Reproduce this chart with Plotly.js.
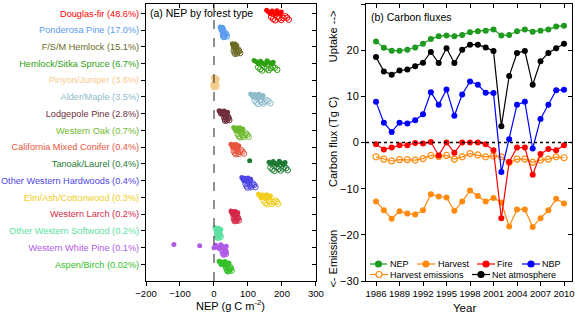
<!DOCTYPE html>
<html><head><meta charset="utf-8">
<script src="https://cdn.plot.ly/plotly-3.0.1.min.js"></script>
<style>html,body{margin:0;padding:0;background:#fff}#chart{width:575px;height:314px}</style>
</head><body><div id="chart"></div>
<script>
// ---------- Panel (a) data ----------
const forestTypes = ['Douglas-fir','Ponderosa Pine','F/S/M Hemlock','Hemlock/Sitka Spruce','Pinyon/Juniper','Alder/Maple','Lodgepole Pine','Western Oak','California Mixed Conifer','Tanoak/Laurel','Other Western Hardwoods','Elm/Ash/Cottonwood','Western Larch','Other Western Softwood','Western White Pine','Aspen/Birch'];
const forestShares = ['48.6%','17.0%','15.1%','6.7%','3.6%','3.5%','2.8%','0.7%','0.4%','0.4%','0.4%','0.3%','0.2%','0.2%','0.1%','0.02%'];
const nepFilled = [
  [155,160,166,171,176,181,185,189,194,198],
  [18,20,21,22,23,24,25,26,27,28],
  [54,56,57,58,60,61,62,64,65,67],
  [118,124,131,137,144,150,156,162,168,174],
  [-2,0,1,2,3,4,5,6,8,10],
  [108,112,116,120,124,128,132,136,140,144],
  [15,18,20,23,25,27,30,33,36,40],
  [58,61,64,67,70,73,76,79,82,85],
  [50,53,55,58,60,62,65,67,70,73],
  [105,162,168,174,180,186,192,198,204,209],
  [82,85,88,91,94,97,100,103,106,108],
  [131,135,139,143,147,151,155,159,163,166],
  [50,52,55,57,59,61,63,65,67,70],
  [3,5,7,9,11,13,14,16,18,20],
  [-118,-42,0,5,10,15,20,25,30,36],
  [15,18,21,24,27,30,33,36,40,44]
];
const nepOpen = [
  [168,174,180,186,192,198,204,210,215,220],
  [26,27,28,29,30,31,32,34,36,38],
  [58,60,62,64,66,68,70,72,74,77],
  [130,136,142,148,155,161,167,173,179,186],
  [-2,-1,0,1,2,3,4,5,6,8],
  [120,125,130,135,140,145,150,155,160,166],
  [30,32,33,35,36,38,40,41,43,45],
  [70,73,77,80,84,87,91,94,98,102],
  [58,61,64,67,70,73,76,80,84,88],
  [166,172,178,184,190,196,202,207,212,217],
  [93,96,99,102,106,109,112,115,118,122],
  [146,151,156,161,166,171,176,180,185,189],
  [58,60,61,63,64,66,67,69,71,73],
  [9,10,11,12,13,14,15,16,18,20],
  [25,27,28,29,30,31,32,33,34,35],
  [36,38,40,42,43,44,46,48,50,52]
];
// ---------- Panel (b) data ----------
const years = [1986,1987,1988,1989,1990,1991,1992,1993,1994,1995,1996,1997,1998,1999,2000,2001,2002,2003,2004,2005,2006,2007,2008,2009,2010];
const nepFlux = [21.9,20.5,19.9,19.9,20.1,20.6,21.4,22.4,23.0,23.2,23.0,23.3,23.9,24.1,24.2,24.5,23.2,23.3,24.1,24.5,24.0,24.2,24.5,25.1,25.3];
const harvest = [-12.8,-14.7,-16.5,-14.9,-15.4,-15.6,-14.7,-11.2,-11.7,-11.9,-14.8,-12.8,-10.4,-11.6,-12.8,-12.0,-13.0,-18.2,-14.5,-14.5,-18.3,-16.4,-14.7,-12.2,-13.2];
const fire = [-0.4,-1.5,-1.1,-0.6,-0.6,-0.1,-0.2,0.1,-2.8,0.0,-2.2,0.0,0.0,0.0,-0.4,-1.7,-16.4,-4.2,-1.1,-1.1,-7.0,-2.5,-1.4,-1.7,-0.6];
const nbp = [8.8,4.3,2.3,4.3,4.1,4.8,6.1,10.9,8.2,11.5,5.8,10.4,13.2,12.5,10.8,10.7,-6.4,0.7,8.2,8.8,-1.3,5.1,8.2,11.3,11.4];
const harvestEmissions = [-3.1,-3.6,-4.0,-3.7,-3.7,-3.8,-3.5,-2.8,-3.0,-2.8,-3.6,-3.1,-2.4,-2.7,-3.1,-2.9,-3.1,-4.3,-3.6,-3.6,-4.3,-3.8,-3.6,-3.1,-3.3];
const netAtmosphere = [18.5,15.4,14.7,15.6,15.8,16.5,17.3,19.6,17.2,20.4,17.2,20.1,21.2,21.2,20.6,19.8,3.5,14.4,19.4,19.8,12.5,17.6,19.4,20.4,21.4];
const yearTicks = [1986,1989,1992,1995,1998,2001,2004,2007,2010];

// ---------- styles ----------
const FONT = 'Liberation Sans, Arial, sans-serif';
const forestColors = ['#ff0000','#5b9cf0','#6b6b23','#2ea012','#f5cb8c','#8dbbcb','#6e2e3a','#6dba2e','#e8553d','#1e7a32','#4f45e6','#f2cd1c','#d62848','#5ee0a0','#b05ae8','#35c02a'];
const C = {nep:'#1e9a1e', harvest:'#ff8a0d', fire:'#ff0000', nbp:'#0000ff', hem:'#ff8a0d', net:'#000000'};
const JIT = [-0.12,-0.04,0.08,-0.08,0.04,0.12,-0.1,0.0,0.1,-0.02];
const FILL_OFF = -0.06, OPEN_OFF = 0.3;

const traces = [];
forestTypes.forEach((t,i)=>{
  traces.push({type:'scatter',mode:'markers',x:nepOpen[i],y:nepOpen[i].map((v,k)=>i+OPEN_OFF+JIT[(k+3)%JIT.length]),
    xaxis:'x',yaxis:'y',showlegend:false,hoverinfo:'skip',
    marker:{size:5.5,color:forestColors[i],symbol:'circle-open',line:{width:1,color:forestColors[i]}}});
  traces.push({type:'scatter',mode:'markers',x:nepFilled[i],y:nepFilled[i].map((v,k)=>i+FILL_OFF+JIT[k%JIT.length]),
    xaxis:'x',yaxis:'y',showlegend:false,hoverinfo:'skip',
    marker:{size:5,color:forestColors[i],line:{width:0}}});
});
function series(y,color,open){
  return {type:'scatter',mode:'lines+markers',x:years,y:y,xaxis:'x2',yaxis:'y2',showlegend:false,
    line:{color:color,width:1.2},
    marker:open?{size:6,symbol:'circle-open',color:color,line:{width:1.2,color:color}}:{size:6,color:color}};
}
traces.push(series(harvest,C.harvest,false));
traces.push(series(harvestEmissions,C.hem,true));
traces.push(series(nepFlux,C.nep,false));
traces.push(series(netAtmosphere,C.net,false));
traces.push(series(nbp,C.nbp,false));
traces.push(series(fire,C.fire,false));
// empty helpers so mirrored inside-tick axes are drawn
traces.push({type:'scatter',x:[],y:[],xaxis:'x3',yaxis:'y',showlegend:false});
traces.push({type:'scatter',x:[],y:[],xaxis:'x',yaxis:'y3',showlegend:false});
traces.push({type:'scatter',x:[],y:[],xaxis:'x4',yaxis:'y2',showlegend:false});
traces.push({type:'scatter',x:[],y:[],xaxis:'x2',yaxis:'y4',showlegend:false});

const idx = forestTypes.map((t,i)=>i);
const tickText = forestTypes.map((t,i)=>`<span style="color:${forestColors[i]}">${t} (${forestShares[i]})</span>`);
const yRangeA = [16.0,-0.556];
const xRangeA = [-200,300];
const xRangeB = [1984.72,2011.02];
const yRangeB = [-30,30];
const axBase = {showgrid:false,zeroline:false,showline:true,linecolor:'#000',linewidth:1,mirror:true,ticks:'outside',ticklen:4,tickcolor:'#000',tickwidth:1};
const mirrorAx = {showgrid:false,zeroline:false,showline:false,ticks:'inside',ticklen:4,tickcolor:'#000',tickwidth:1,showticklabels:false};

// custom legend for panel (b) (pixel positions converted to domain fractions)
const PB = {x0:366,w:206,yb:281,h:277};
const legendItems = [
  {label:'NEP',color:C.nep,open:false,l0:370,l1:387,tx:389,py:264},
  {label:'Harvest',color:C.harvest,open:false,l0:417,l1:435,tx:437,py:264},
  {label:'Fire',color:C.fire,open:false,l0:477,l1:495,tx:496,py:264},
  {label:'NBP',color:C.nbp,open:false,l0:522,l1:540,tx:541,py:264},
  {label:'Harvest emissions',color:C.hem,open:true,l0:370,l1:388,tx:389,py:274.5},
  {label:'Net atmosphere',color:C.net,open:false,l0:472,l1:490,tx:491,py:274.5}
];
const fx = px=>(px-PB.x0)/PB.w, fy = py=>(PB.yb-py)/PB.h;
const shapes = [
  {type:'line',xref:'x',yref:'y domain',x0:0,x1:0,y0:0,y1:1,line:{color:'#222',width:1,dash:'dash'}},
  {type:'line',xref:'x2 domain',yref:'y2',x0:0,x1:1,y0:0,y1:0,line:{color:'#000',width:1.5,dash:'dot'}}
];
const annotations = [];
legendItems.forEach(it=>{
  shapes.push({type:'line',xref:'x2 domain',yref:'y2 domain',x0:fx(it.l0),x1:fx(it.l1),y0:fy(it.py),y1:fy(it.py),line:{color:it.color,width:1.2}});
  shapes.push({type:'circle',xref:'x2 domain',yref:'y2 domain',xsizemode:'pixel',ysizemode:'pixel',
    xanchor:fx((it.l0+it.l1)/2),yanchor:fy(it.py),x0:-3,x1:3,y0:-3,y1:3,
    fillcolor:it.open?'#fff':it.color,line:{color:it.color,width:1.2}});
  annotations.push({xref:'x2 domain',yref:'y2 domain',x:fx(it.tx),y:fy(it.py),xanchor:'left',yanchor:'middle',
    text:it.label,showarrow:false,font:{family:FONT,size:9,color:'#000'},borderpad:0});
});
annotations.push(
  {xref:'x domain',yref:'paper',x:0.012,y:0.9675,xanchor:'left',yanchor:'middle',showarrow:false,text:'(a) NEP by forest type',font:{family:FONT,size:10.5,color:'#000'}},
  {xref:'x2 domain',yref:'paper',x:0.014,y:0.953,xanchor:'left',yanchor:'middle',showarrow:false,text:'(b) Carbon fluxes',font:{family:FONT,size:10.5,color:'#000'}},
  {xref:'x domain',yref:'paper',x:0.5,y:-0.0866,xanchor:'center',yanchor:'middle',showarrow:false,text:'NEP (g C m<sup>-2</sup>)',font:{family:FONT,size:11,color:'#000'}},
  {xref:'x2 domain',yref:'paper',x:0.48,y:-0.0975,xanchor:'center',yanchor:'middle',showarrow:false,text:'Year',font:{family:FONT,size:11.5,color:'#000'}},
  {xref:'paper',yref:'paper',x:0.439,y:0.884,xanchor:'center',yanchor:'middle',textangle:-90,showarrow:false,text:'Uptake -->',font:{family:FONT,size:11,color:'#000'}},
  {xref:'paper',yref:'paper',x:0.439,y:0.502,xanchor:'center',yanchor:'middle',textangle:-90,showarrow:false,text:'Carbon flux (Tg C)',font:{family:FONT,size:11,color:'#000'}},
  {xref:'paper',yref:'paper',x:0.439,y:0.081,xanchor:'center',yanchor:'middle',textangle:-90,showarrow:false,text:'<- Emission',font:{family:FONT,size:11,color:'#000'}}
);

const layout = {
  width:575,height:314,margin:{l:146,r:3,t:4,b:33},
  paper_bgcolor:'#fff',plot_bgcolor:'#fff',showlegend:false,
  font:{family:FONT,size:9.5,color:'#000'},
  xaxis:Object.assign({},axBase,{domain:[0,0.399],range:xRangeA,dtick:100,tick0:0,anchor:'y',tickfont:{size:9.5}}),
  yaxis:Object.assign({},axBase,{domain:[0,1],range:yRangeA,tickvals:idx,ticktext:tickText,anchor:'x',tickfont:{size:9.2}}),
  xaxis3:Object.assign({},mirrorAx,{overlaying:'x',side:'top',anchor:'y',range:xRangeA,dtick:100,tick0:0}),
  yaxis3:Object.assign({},mirrorAx,{overlaying:'y',side:'right',anchor:'x',range:yRangeA,tickvals:idx}),
  xaxis2:Object.assign({},axBase,{domain:[0.5164,1],range:xRangeB,tickvals:yearTicks,anchor:'y2',tickfont:{size:9.5}}),
  yaxis2:Object.assign({},axBase,{domain:[0,1],range:yRangeB,dtick:10,anchor:'x2',tickfont:{size:11}}),
  xaxis4:Object.assign({},mirrorAx,{overlaying:'x2',side:'top',anchor:'y2',range:xRangeB,tickvals:yearTicks}),
  yaxis4:Object.assign({},mirrorAx,{overlaying:'y2',side:'right',anchor:'x2',range:yRangeB,dtick:10}),
  shapes:shapes,annotations:annotations
};
Plotly.newPlot('chart',traces,layout,{displayModeBar:false,staticPlot:true});
</script></body></html>
